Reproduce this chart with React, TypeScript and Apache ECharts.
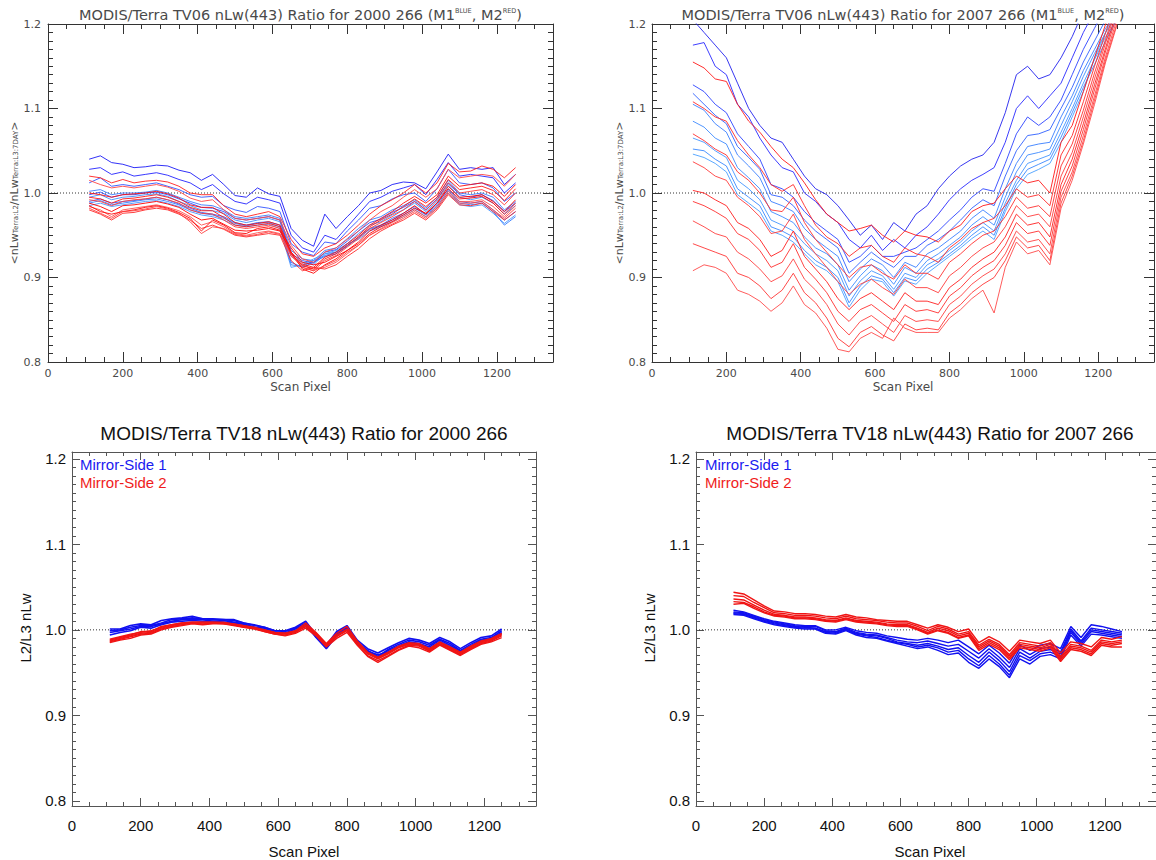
import React, { useEffect, useRef } from "react";
import * as echarts from "echarts";

// ---------------- DATA ----------------
const SCAN_PIXEL = [110,140,170,200,230,260,290,320,350,380,410,440,470,500,530,560,590,620,650,680,710,740,770,800,830,860,890,920,950,980,1010,1040,1070,1100,1130,1160,1190,1220,1250];
const X_MAJOR = [0,200,400,600,800,1000,1200];
const Y_MAJOR = [0.8,0.9,1.0,1.1,1.2];

// Top-left: TV06, 2000 day 266
const TL_BLUE = [
  [1.040,1.044,1.036,1.034,1.030,1.031,1.033,1.032,1.027,1.024,1.015,1.022,1.010,0.997,0.995,1.006,0.999,0.996,0.958,0.944,0.937,0.975,0.958,0.972,0.985,1.000,1.003,1.010,1.013,1.012,1.005,1.025,1.046,1.028,1.030,1.028,1.030,1.010,1.022],
  [1.028,1.030,1.022,1.025,1.020,1.022,1.024,1.021,1.016,1.012,1.004,1.010,0.999,0.990,0.987,0.995,0.992,0.988,0.950,0.935,0.930,0.950,0.945,0.960,0.975,0.990,0.995,1.002,1.006,1.010,0.998,1.016,1.036,1.020,1.022,1.020,1.018,1.000,1.012],
  [1.012,1.018,1.008,1.010,1.008,1.010,1.012,1.008,1.004,0.998,0.995,0.996,0.985,0.980,0.977,0.984,0.982,0.978,0.940,0.930,0.926,0.942,0.940,0.955,0.968,0.982,0.985,0.993,0.998,1.000,0.990,1.005,1.028,1.012,1.010,1.012,1.006,0.990,1.000],
  [1.002,1.004,0.998,1.000,1.000,1.001,1.003,1.000,0.995,0.990,0.986,0.985,0.980,0.972,0.970,0.972,0.974,0.970,0.932,0.922,0.920,0.932,0.935,0.946,0.958,0.968,0.972,0.980,0.985,0.992,0.982,0.995,1.015,1.000,0.998,1.000,0.995,0.980,0.990],
  [0.995,0.998,0.992,0.995,0.996,0.998,0.999,0.996,0.990,0.985,0.980,0.979,0.976,0.968,0.965,0.968,0.970,0.966,0.925,0.918,0.915,0.928,0.930,0.940,0.952,0.962,0.966,0.974,0.980,0.988,0.978,0.990,1.010,0.995,0.992,0.995,0.988,0.975,0.985],
  [0.990,0.993,0.988,0.990,0.991,0.993,0.995,0.992,0.987,0.982,0.977,0.975,0.972,0.965,0.962,0.965,0.966,0.962,0.918,0.912,0.918,0.925,0.928,0.937,0.948,0.958,0.962,0.970,0.976,0.984,0.975,0.986,1.005,0.990,0.988,0.990,0.980,0.968,0.978],
  [0.985,0.988,0.984,0.986,0.988,0.990,0.991,0.988,0.984,0.978,0.974,0.972,0.968,0.962,0.960,0.962,0.963,0.958,0.912,0.915,0.922,0.928,0.932,0.940,0.945,0.955,0.960,0.966,0.972,0.980,0.972,0.982,1.000,0.986,0.984,0.986,0.976,0.964,0.974],
  [0.988,0.991,0.986,0.988,0.990,0.992,0.993,0.990,0.986,0.980,0.976,0.974,0.970,0.964,0.961,0.964,0.965,0.960,0.915,0.913,0.920,0.926,0.930,0.938,0.947,0.957,0.961,0.968,0.974,0.982,0.974,0.984,1.003,0.988,0.986,0.988,0.978,0.962,0.972],
  [0.998,1.001,0.995,0.998,0.998,1.000,1.001,0.998,0.993,0.988,0.983,0.982,0.978,0.970,0.968,0.970,0.972,0.968,0.928,0.920,0.917,0.930,0.933,0.943,0.955,0.965,0.969,0.977,0.983,0.990,0.980,0.993,1.012,0.998,0.995,0.998,0.991,0.978,0.988],
];
const TL_RED = [
  [1.020,1.018,1.012,1.016,1.012,1.014,1.015,1.013,1.008,1.000,0.998,0.998,0.985,0.975,0.972,0.975,0.978,0.972,0.945,0.928,0.925,0.935,0.940,0.950,0.962,0.975,0.985,0.992,1.000,1.010,1.000,1.012,1.035,1.025,1.026,1.032,1.028,1.018,1.030],
  [1.015,1.010,1.006,1.008,1.006,1.008,1.010,1.007,1.002,0.994,0.990,0.992,0.980,0.970,0.968,0.970,0.972,0.968,0.938,0.922,0.918,0.930,0.935,0.945,0.955,0.968,0.978,0.985,0.995,1.004,0.995,1.005,1.028,1.018,1.020,1.022,1.020,1.008,1.022],
  [1.000,0.998,0.995,0.998,0.999,1.000,1.002,0.999,0.994,0.986,0.983,0.983,0.975,0.965,0.962,0.964,0.966,0.962,0.930,0.916,0.912,0.924,0.930,0.940,0.950,0.962,0.970,0.978,0.988,0.996,0.988,0.998,1.020,1.008,1.010,1.012,1.008,0.996,1.010],
  [0.992,0.990,0.985,0.990,0.992,0.993,0.995,0.992,0.988,0.980,0.976,0.975,0.968,0.960,0.958,0.960,0.962,0.958,0.926,0.912,0.908,0.920,0.926,0.936,0.946,0.958,0.965,0.972,0.980,0.990,0.980,0.992,1.012,1.000,1.002,1.004,0.998,0.986,1.000],
  [0.988,0.984,0.978,0.985,0.986,0.988,0.990,0.987,0.983,0.975,0.968,0.970,0.963,0.956,0.955,0.956,0.958,0.955,0.930,0.910,0.905,0.915,0.922,0.932,0.942,0.955,0.962,0.968,0.976,0.985,0.975,0.988,1.008,0.995,0.996,0.998,0.990,0.978,0.992],
  [0.984,0.980,0.972,0.980,0.982,0.984,0.986,0.983,0.979,0.972,0.962,0.966,0.960,0.952,0.950,0.953,0.955,0.952,0.925,0.915,0.910,0.912,0.918,0.928,0.938,0.950,0.958,0.965,0.972,0.980,0.972,0.984,1.002,0.990,0.990,0.992,0.984,0.972,0.985],
  [0.980,0.975,0.968,0.976,0.977,0.980,0.982,0.980,0.975,0.968,0.958,0.962,0.957,0.950,0.948,0.950,0.952,0.950,0.920,0.908,0.912,0.910,0.915,0.925,0.934,0.946,0.955,0.962,0.968,0.976,0.968,0.980,0.998,0.986,0.985,0.988,0.978,0.968,0.978],
  [0.985,0.978,0.975,0.978,0.980,0.983,0.985,0.982,0.977,0.970,0.955,0.968,0.962,0.953,0.952,0.958,0.960,0.956,0.935,0.918,0.915,0.918,0.925,0.932,0.940,0.952,0.960,0.966,0.974,0.982,0.976,0.988,1.005,0.993,0.994,0.996,0.988,0.975,0.988],
  [0.982,0.976,0.970,0.978,0.979,0.981,0.984,0.981,0.976,0.966,0.952,0.960,0.958,0.951,0.949,0.951,0.954,0.951,0.928,0.912,0.908,0.914,0.920,0.930,0.938,0.950,0.957,0.963,0.970,0.978,0.970,0.982,1.000,0.988,0.988,0.990,0.980,0.970,0.982],
  [0.995,0.993,0.988,0.993,0.994,0.996,0.998,0.995,0.990,0.983,0.979,0.979,0.971,0.962,0.960,0.962,0.964,0.960,0.928,0.914,0.910,0.922,0.928,0.938,0.948,0.960,0.968,0.975,0.984,0.993,0.984,0.995,1.016,1.004,1.006,1.008,1.003,0.991,1.005],
];

// Top-right: TV06, 2007 day 266
const TR_BLUE = [
  [1.205,1.190,1.175,1.160,1.130,1.100,1.080,1.065,1.060,1.040,1.020,1.005,0.998,0.985,0.968,0.950,0.962,0.945,0.965,0.955,0.975,0.985,1.005,1.020,1.032,1.040,1.045,1.060,1.095,1.140,1.150,1.135,1.140,1.160,1.185,1.215,1.240,1.260,1.280],
  [1.175,1.178,1.150,1.140,1.105,1.090,1.065,1.045,1.030,1.025,1.000,0.990,0.975,0.965,0.945,0.935,0.950,0.932,0.945,0.935,0.950,0.960,0.975,0.992,1.005,1.015,1.022,1.030,1.060,1.100,1.115,1.100,1.115,1.130,1.160,1.190,1.215,1.240,1.260],
  [1.128,1.120,1.105,1.095,1.070,1.055,1.040,1.010,1.005,0.995,0.978,0.965,0.955,0.945,0.918,0.925,0.938,0.925,0.925,0.930,0.935,0.945,0.955,0.968,0.980,0.995,1.005,1.002,1.035,1.070,1.090,1.080,1.090,1.110,1.140,1.170,1.195,1.220,1.240],
  [1.118,1.105,1.092,1.082,1.055,1.042,1.028,0.998,0.995,0.985,0.968,0.955,0.945,0.935,0.905,0.918,0.930,0.920,0.912,0.925,0.925,0.938,0.945,0.955,0.968,0.982,0.992,0.985,1.020,1.050,1.068,1.070,1.075,1.100,1.125,1.155,1.180,1.205,1.225],
  [1.105,1.098,1.082,1.072,1.045,1.032,1.018,0.990,0.985,0.978,0.958,0.945,0.935,0.925,0.895,0.910,0.922,0.915,0.900,0.918,0.912,0.928,0.935,0.945,0.955,0.970,0.980,0.970,1.005,1.035,1.055,1.058,1.060,1.090,1.115,1.145,1.170,1.195,1.215],
  [1.085,1.078,1.065,1.058,1.030,1.018,1.005,0.978,0.972,0.965,0.948,0.935,0.928,0.915,0.885,0.902,0.915,0.908,0.892,0.912,0.905,0.920,0.928,0.938,0.948,0.962,0.972,0.962,0.995,1.025,1.045,1.048,1.052,1.080,1.108,1.138,1.165,1.190,1.210],
  [1.065,1.060,1.050,1.042,1.015,1.005,0.992,0.968,0.962,0.955,0.940,0.928,0.920,0.908,0.878,0.896,0.908,0.902,0.886,0.905,0.900,0.915,0.922,0.932,0.942,0.955,0.965,0.955,0.988,1.015,1.035,1.040,1.045,1.072,1.100,1.130,1.158,1.185,1.205],
  [1.052,1.050,1.040,1.032,1.005,0.995,0.985,0.960,0.955,0.948,0.932,0.920,0.912,0.900,0.870,0.890,0.902,0.898,0.882,0.900,0.896,0.910,0.918,0.928,0.938,0.950,0.960,0.950,0.982,1.010,1.028,1.034,1.040,1.066,1.095,1.125,1.152,1.180,1.205],
  [1.046,1.042,1.035,1.025,0.998,0.988,0.978,0.955,0.950,0.942,0.928,0.915,0.908,0.895,0.865,0.885,0.898,0.895,0.878,0.896,0.892,0.905,0.915,0.925,0.935,0.946,0.955,0.945,0.978,1.005,1.022,1.028,1.035,1.060,1.090,1.120,1.160,1.190,1.220],
];
const TR_RED = [
  [1.155,1.148,1.135,1.132,1.105,1.085,1.072,1.055,1.040,1.030,1.012,0.992,0.975,0.965,0.955,0.958,0.962,0.950,0.942,0.955,0.950,0.948,0.942,0.955,0.962,0.978,0.985,0.988,1.005,1.020,1.012,1.015,1.000,1.060,1.080,1.120,1.160,1.200,1.240],
  [1.108,1.100,1.090,1.085,1.062,1.045,1.030,1.010,1.002,1.010,0.985,0.962,0.948,0.940,0.925,0.935,0.938,0.925,0.918,0.935,0.928,0.925,0.918,0.935,0.945,0.958,0.965,0.970,0.985,1.005,0.995,0.998,0.985,1.045,1.068,1.108,1.150,1.190,1.230],
  [1.070,1.062,1.052,1.045,1.025,1.015,1.000,0.980,0.978,0.995,0.965,0.945,0.930,0.915,0.900,0.912,0.915,0.905,0.898,0.915,0.905,0.905,0.898,0.918,0.928,0.940,0.950,0.955,0.972,0.995,0.982,0.985,0.972,1.032,1.058,1.098,1.142,1.182,1.225],
  [1.037,1.030,1.020,1.015,0.995,0.985,0.972,0.952,0.955,0.975,0.945,0.928,0.912,0.895,0.880,0.892,0.898,0.888,0.880,0.898,0.888,0.888,0.882,0.902,0.912,0.925,0.935,0.942,0.960,0.985,0.972,0.975,0.960,1.020,1.048,1.090,1.135,1.178,1.220],
  [1.003,1.000,0.992,0.985,0.965,0.958,0.945,0.925,0.932,0.955,0.925,0.910,0.895,0.875,0.862,0.875,0.882,0.872,0.862,0.882,0.872,0.872,0.868,0.888,0.898,0.912,0.922,0.930,0.948,0.975,0.962,0.965,0.948,1.010,1.040,1.082,1.128,1.172,1.215],
  [0.990,0.985,0.978,0.970,0.952,0.945,0.932,0.912,0.918,0.940,0.912,0.898,0.882,0.860,0.848,0.862,0.868,0.858,0.848,0.868,0.860,0.862,0.858,0.878,0.888,0.902,0.912,0.920,0.938,0.965,0.952,0.955,0.938,1.002,1.032,1.075,1.122,1.168,1.210],
  [0.967,0.960,0.952,0.948,0.930,0.922,0.910,0.895,0.902,0.922,0.898,0.885,0.868,0.845,0.832,0.848,0.855,0.845,0.835,0.855,0.848,0.850,0.848,0.868,0.878,0.892,0.902,0.910,0.928,0.955,0.942,0.945,0.928,0.995,1.025,1.068,1.115,1.162,1.205],
  [0.940,0.935,0.930,0.925,0.905,0.900,0.890,0.875,0.885,0.905,0.882,0.870,0.852,0.828,0.818,0.835,0.842,0.832,0.825,0.845,0.838,0.840,0.838,0.858,0.868,0.882,0.892,0.900,0.920,0.948,0.935,0.938,0.920,0.988,1.020,1.062,1.110,1.158,1.200],
  [0.908,0.915,0.912,0.905,0.885,0.880,0.872,0.860,0.870,0.890,0.868,0.858,0.840,0.815,0.812,0.828,0.835,0.828,0.852,0.840,0.835,0.835,0.835,0.852,0.862,0.875,0.885,0.858,0.912,0.942,0.928,0.932,0.915,0.982,1.015,1.058,1.105,1.155,1.198],
];

// Bottom-left: TV18, 2000 day 266
const BL_BLUE = [
  [1.001,1.001,1.005,1.007,1.006,1.011,1.013,1.014,1.016,1.013,1.013,1.012,1.012,1.008,1.006,1.003,0.999,0.999,1.003,1.010,0.994,0.982,0.998,1.005,0.988,0.978,0.973,0.979,0.985,0.990,0.988,0.984,0.991,0.986,0.978,0.985,0.991,0.993,1.001],
  [0.997,0.999,1.001,1.004,1.004,1.007,1.010,1.012,1.012,1.012,1.010,1.011,1.009,1.007,1.003,1.002,0.997,0.996,1.001,1.006,0.991,0.978,0.993,1.001,0.984,0.974,0.968,0.976,0.981,0.986,0.984,0.980,0.988,0.982,0.975,0.981,0.988,0.989,0.997],
  [0.994,0.997,0.999,1.003,1.002,1.006,1.009,1.010,1.011,1.010,1.010,1.009,1.008,1.006,1.003,1.000,0.997,0.996,0.999,1.004,0.993,0.980,0.996,1.003,0.986,0.975,0.971,0.974,0.980,0.984,0.983,0.978,0.986,0.980,0.974,0.981,0.987,0.990,0.996],
  [0.999,1.000,1.003,1.005,1.005,1.008,1.012,1.013,1.014,1.013,1.012,1.012,1.011,1.008,1.005,1.003,0.999,0.998,1.002,1.008,0.992,0.979,0.995,1.002,0.985,0.976,0.969,0.977,0.983,0.988,0.986,0.982,0.989,0.984,0.976,0.983,0.989,0.991,0.999],
];
const BL_RED = [
  [0.988,0.991,0.994,0.998,0.998,1.004,1.006,1.008,1.009,1.009,1.009,1.009,1.007,1.005,1.003,1.000,0.997,0.996,0.999,1.008,0.997,0.984,0.996,1.004,0.987,0.974,0.968,0.974,0.981,0.985,0.984,0.978,0.986,0.980,0.974,0.981,0.987,0.990,0.996],
  [0.986,0.989,0.992,0.995,0.996,1.001,1.004,1.006,1.008,1.007,1.008,1.007,1.006,1.003,1.001,0.998,0.995,0.994,0.997,1.004,0.994,0.981,0.992,0.999,0.983,0.970,0.964,0.970,0.977,0.982,0.981,0.975,0.983,0.977,0.971,0.978,0.984,0.987,0.993],
  [0.985,0.988,0.990,0.994,0.995,1.000,1.003,1.005,1.007,1.006,1.007,1.007,1.005,1.003,1.002,0.998,0.995,0.993,0.996,1.002,0.993,0.980,0.990,0.997,0.982,0.969,0.962,0.969,0.976,0.981,0.979,0.974,0.982,0.976,0.970,0.977,0.983,0.986,0.991],
  [0.989,0.992,0.995,0.997,0.999,1.003,1.006,1.008,1.009,1.009,1.009,1.008,1.007,1.005,1.002,1.000,0.997,0.996,0.998,1.006,0.996,0.983,0.994,1.001,0.986,0.973,0.967,0.973,0.980,0.984,0.983,0.977,0.985,0.979,0.973,0.980,0.986,0.989,0.995],
  [0.987,0.990,0.993,0.996,0.997,1.002,1.005,1.007,1.008,1.008,1.008,1.008,1.006,1.004,1.002,0.999,0.996,0.995,0.998,1.005,0.995,0.982,0.993,1.000,0.985,0.972,0.966,0.972,0.979,0.983,0.982,0.976,0.984,0.978,0.972,0.979,0.985,0.988,0.994],
];

// Bottom-right: TV18, 2007 day 266
const BR_BLUE = [
  [1.023,1.021,1.017,1.013,1.010,1.008,1.006,1.005,1.005,1.000,1.000,1.003,0.999,0.997,0.996,0.993,0.991,0.989,0.988,0.990,0.988,0.985,0.988,0.980,0.972,0.982,0.973,0.961,0.982,0.976,0.982,0.984,0.978,1.004,0.991,1.006,1.004,1.001,0.998],
  [1.021,1.020,1.016,1.012,1.009,1.007,1.005,1.004,1.004,0.999,0.998,1.002,0.997,0.995,0.994,0.991,0.988,0.986,0.985,0.987,0.984,0.981,0.983,0.975,0.967,0.978,0.968,0.956,0.978,0.971,0.978,0.980,0.974,1.001,0.987,1.002,1.000,0.998,0.996],
  [1.020,1.019,1.015,1.011,1.008,1.006,1.004,1.003,1.002,0.998,0.997,1.001,0.996,0.994,0.993,0.990,0.986,0.984,0.982,0.984,0.981,0.977,0.979,0.970,0.962,0.974,0.964,0.951,0.974,0.967,0.975,0.977,0.972,0.999,0.985,1.000,0.998,0.996,0.994],
  [1.019,1.018,1.014,1.010,1.007,1.005,1.003,1.002,1.002,0.997,0.996,1.000,0.995,0.993,0.991,0.988,0.985,0.983,0.980,0.982,0.979,0.974,0.976,0.966,0.958,0.970,0.960,0.947,0.970,0.964,0.972,0.974,0.969,0.997,0.983,0.998,0.996,0.994,0.992],
  [1.018,1.017,1.013,1.009,1.006,1.004,1.002,1.001,1.001,0.996,0.995,0.999,0.994,0.991,0.990,0.987,0.984,0.981,0.978,0.980,0.976,0.971,0.973,0.962,0.955,0.966,0.957,0.944,0.966,0.960,0.969,0.971,0.966,0.994,0.981,0.995,0.994,0.992,0.990],
];
const BR_RED = [
  [1.044,1.042,1.035,1.028,1.022,1.021,1.019,1.019,1.018,1.016,1.015,1.018,1.015,1.014,1.012,1.011,1.010,1.010,1.006,1.002,1.006,1.003,0.998,1.001,0.985,0.992,0.986,0.975,0.988,0.986,0.984,0.988,0.973,0.986,0.984,0.980,0.991,0.989,0.992],
  [1.040,1.039,1.032,1.026,1.020,1.019,1.017,1.017,1.016,1.014,1.013,1.016,1.013,1.012,1.011,1.009,1.008,1.008,1.004,0.999,1.004,1.001,0.995,0.998,0.982,0.989,0.983,0.971,0.985,0.983,0.981,0.985,0.969,0.983,0.981,0.976,0.988,0.986,0.988],
  [1.036,1.035,1.029,1.023,1.018,1.017,1.015,1.015,1.014,1.012,1.011,1.014,1.011,1.010,1.009,1.007,1.006,1.006,1.002,0.997,1.002,0.999,0.993,0.996,0.980,0.987,0.981,0.969,0.983,0.981,0.979,0.983,0.967,0.981,0.979,0.974,0.986,0.984,0.986],
  [1.033,1.032,1.027,1.021,1.017,1.016,1.014,1.014,1.013,1.011,1.010,1.013,1.010,1.009,1.008,1.006,1.005,1.005,1.001,0.996,1.000,0.997,0.991,0.994,0.978,0.985,0.979,0.967,0.981,0.979,0.977,0.981,0.965,0.979,0.977,0.972,0.984,0.982,0.984],
  [1.030,1.031,1.025,1.020,1.016,1.015,1.013,1.013,1.012,1.010,1.009,1.012,1.009,1.008,1.007,1.005,1.004,1.004,1.000,0.995,0.999,0.996,0.990,0.993,0.976,0.983,0.977,0.965,0.979,0.977,0.975,0.979,0.963,0.977,0.975,0.970,0.982,0.980,0.980],
];

const TL_BLUE_COLORS = ["#1c1cf6", "#2424ff", "#3355ff", "#3c7cff", "#3f8fff", "#2f66ff", "#4a98ff", "#3a80ff", "#2a50ff"];
const TL_RED_COLORS = ["#ff2020", "#ff4646", "#ff1010", "#ff3a3a", "#ff0000", "#ff5050", "#ff2a2a", "#ff0808", "#ff4040", "#ff1818"];
const TR_BLUE_COLORS = ["#2222ee", "#2a2aff", "#2e44ff", "#3060ff", "#3a80ff", "#3f8cff", "#4596ff", "#3a88ff", "#4aa0ff"];
const TR_RED_COLORS = ["#ff1a1a", "#ff2a2a", "#ff3030", "#ff3c3c", "#ff2020", "#ff3030", "#ff4040", "#ff3636", "#ff4a4a"];

// ---------------- LAYOUT ----------------
type Panel = {
  left: number; top: number; width: number; height: number;
  yMin: number; yMax: number;
  font: string; text: string; frame: string;
  tickFont: number; major: number; minor: number;
  xMargin: number; yMargin: number;
};

const IDL_FONT = "DejaVu Sans";
const HV_FONT = "Liberation Sans";

const PANELS: Panel[] = [
  { left: 48, top: 24, width: 505, height: 338, yMin: 0.8, yMax: 1.2, font: IDL_FONT, text: "#4a4a4a", frame: "#333", tickFont: 11, major: 10, minor: 5, xMargin: 6, yMargin: 7 },
  { left: 652, top: 24, width: 502, height: 338, yMin: 0.8, yMax: 1.2, font: IDL_FONT, text: "#4a4a4a", frame: "#333", tickFont: 11, major: 10, minor: 5, xMargin: 6, yMargin: 6 },
  { left: 72, top: 452, width: 464, height: 354, yMin: 0.794, yMax: 1.208, font: HV_FONT, text: "#111", frame: "#555", tickFont: 15, major: 8, minor: 4, xMargin: 12, yMargin: 6 },
  { left: 696, top: 452, width: 468, height: 354, yMin: 0.794, yMax: 1.208, font: HV_FONT, text: "#111", frame: "#555", tickFont: 15, major: 8, minor: 4, xMargin: 12, yMargin: 6 },
];

function minorX(): number[] {
  const out: number[] = [];
  for (let v = 50; v < 1350; v += 50) if (v % 200 !== 0) out.push(v);
  return out;
}
function minorY(): number[] {
  const out: number[] = [];
  for (let k = 79; k <= 121; k++) if (k % 10 !== 0) out.push(k / 100);
  return out;
}

function buildAxes(p: Panel, gi: number) {
  const line = { color: p.frame, width: 1 };
  const base = { type: "value", gridIndex: gi, splitLine: { show: false }, silent: true };
  const label = { color: p.text, fontSize: p.tickFont, fontFamily: p.font };
  const xAxes = [
    { ...base, position: "bottom", min: 0, max: 1350,
      axisLine: { show: true, onZero: false, lineStyle: line },
      axisTick: { show: true, inside: true, length: p.major, customValues: X_MAJOR, lineStyle: line },
      axisLabel: { show: true, customValues: X_MAJOR, margin: p.xMargin, ...label, formatter: (v: number) => String(v) } },
    { ...base, position: "bottom", min: 0, max: 1350,
      axisLine: { show: false, onZero: false },
      axisTick: { show: true, inside: true, length: p.minor, customValues: minorX(), lineStyle: line },
      axisLabel: { show: false } },
    { ...base, position: "top", min: 0, max: 1350,
      axisLine: { show: true, onZero: false, lineStyle: line },
      axisTick: { show: true, inside: true, length: p.major, customValues: X_MAJOR, lineStyle: line },
      axisLabel: { show: false } },
    { ...base, position: "top", min: 0, max: 1350,
      axisLine: { show: false, onZero: false },
      axisTick: { show: true, inside: true, length: p.minor, customValues: minorX(), lineStyle: line },
      axisLabel: { show: false } },
  ];
  const yAxes = [
    { ...base, position: "left", min: p.yMin, max: p.yMax,
      axisLine: { show: true, onZero: false, lineStyle: line },
      axisTick: { show: true, inside: true, length: p.major, customValues: Y_MAJOR, lineStyle: line },
      axisLabel: { show: true, customValues: Y_MAJOR, margin: p.yMargin, ...label, formatter: (v: number) => v.toFixed(1) } },
    { ...base, position: "left", min: p.yMin, max: p.yMax,
      axisLine: { show: false, onZero: false },
      axisTick: { show: true, inside: true, length: p.minor, customValues: minorY(), lineStyle: line },
      axisLabel: { show: false } },
    { ...base, position: "right", min: p.yMin, max: p.yMax,
      axisLine: { show: true, onZero: false, lineStyle: line },
      axisTick: { show: true, inside: true, length: p.major, customValues: Y_MAJOR, lineStyle: line },
      axisLabel: { show: false } },
    { ...base, position: "right", min: p.yMin, max: p.yMax,
      axisLine: { show: false, onZero: false },
      axisTick: { show: true, inside: true, length: p.minor, customValues: minorY(), lineStyle: line },
      axisLabel: { show: false } },
  ];
  return { xAxes, yAxes };
}

function lineSeries(gi: number, arrs: number[][], colors: string[], width: number, opacity: number) {
  return arrs.map((arr, k) => ({
    type: "line",
    xAxisIndex: gi * 4,
    yAxisIndex: gi * 4,
    data: SCAN_PIXEL.map((x, i) => [x, arr[i]]),
    showSymbol: false,
    symbol: "none",
    silent: true,
    clip: true,
    z: 3,
    lineStyle: { color: colors[k % colors.length], width, opacity },
  }));
}

function refLine(gi: number) {
  return {
    type: "line",
    xAxisIndex: gi * 4,
    yAxisIndex: gi * 4,
    data: [[0, 1], [1350, 1]],
    showSymbol: false,
    symbol: "none",
    silent: true,
    z: 2,
    lineStyle: { color: "#333", width: 1, type: [1, 2] },
  };
}

function txt(x: number, y: number, text: string, font: string, size: number, fill: string, extra: any = {}) {
  return {
    type: "text",
    x, y,
    silent: true,
    ...extra,
    style: {
      text, fill, fontFamily: font, fontSize: size,
      align: "center", verticalAlign: "middle",
      textAlign: "center", textVerticalAlign: "middle",
      ...(extra.style || {}),
    },
  };
}

function idlTitle(x: number, year: string) {
  return {
    type: "text", x, y: 15, silent: true,
    style: {
      text: `{t|MODIS/Terra TV06 nLw(443) Ratio for ${year} 266 (M1}{s|BLUE}{t|, M2}{s|RED}{t|)}`,
      align: "center", verticalAlign: "middle", textAlign: "center", textVerticalAlign: "middle",
      rich: {
        t: { fontFamily: IDL_FONT, fontSize: 14.5, fill: "#4a4a4a", color: "#4a4a4a", verticalAlign: "bottom" },
        s: { fontFamily: IDL_FONT, fontSize: 6.5, fill: "#4a4a4a", color: "#4a4a4a", verticalAlign: "top" },
      },
    },
  };
}

function idlYName(x: number) {
  return {
    type: "text", x, y: 193, rotation: Math.PI / 2, silent: true,
    style: {
      text: "{a|<nLw}{s|Terra:L2}{a|/nLw}{s|Terra:L3:7DAY}{a|>}",
      align: "center", verticalAlign: "middle", textAlign: "center", textVerticalAlign: "middle",
      rich: {
        a: { fontFamily: IDL_FONT, fontSize: 11, fill: "#4a4a4a", color: "#4a4a4a", verticalAlign: "top" },
        s: { fontFamily: IDL_FONT, fontSize: 7, fill: "#4a4a4a", color: "#4a4a4a", verticalAlign: "bottom" },
      },
    },
  };
}

function buildOption() {
  const grid: any[] = [];
  const xAxis: any[] = [];
  const yAxis: any[] = [];
  PANELS.forEach((p, gi) => {
    grid.push({ left: p.left, top: p.top, width: p.width, height: p.height, containLabel: false, show: false });
    const a = buildAxes(p, gi);
    xAxis.push(...a.xAxes);
    yAxis.push(...a.yAxes);
  });

  const series: any[] = [
    refLine(0), refLine(1), refLine(2), refLine(3),
    ...lineSeries(0, TL_BLUE, TL_BLUE_COLORS, 1, 0.9),
    ...lineSeries(0, TL_RED, TL_RED_COLORS, 1, 0.9),
    ...lineSeries(1, TR_BLUE, TR_BLUE_COLORS, 1, 0.9),
    ...lineSeries(1, TR_RED, TR_RED_COLORS, 1, 0.9),
    ...lineSeries(2, BL_BLUE, ["#1010f0"], 1.6, 1),
    ...lineSeries(2, BL_RED, ["#f01414"], 1.4, 1),
    ...lineSeries(3, BR_BLUE, ["#1010f0"], 1.4, 1),
    ...lineSeries(3, BR_RED, ["#f01414"], 1.4, 1),
  ];

  const tl = PANELS[0], tr = PANELS[1], bl = PANELS[2], br = PANELS[3];
  const graphic: any[] = [
    idlTitle(tl.left + tl.width / 2, "2000"),
    idlTitle(tr.left + tr.width / 2, "2007"),
    txt(tl.left + tl.width / 2, 387, "Scan Pixel", IDL_FONT, 12, "#4a4a4a"),
    txt(tr.left + tr.width / 2, 387, "Scan Pixel", IDL_FONT, 12, "#4a4a4a"),
    idlYName(14),
    idlYName(619),
    txt(bl.left + bl.width / 2, 433, "MODIS/Terra TV18 nLw(443) Ratio for 2000 266", HV_FONT, 19, "#111"),
    txt(br.left + br.width / 2, 433, "MODIS/Terra TV18 nLw(443) Ratio for 2007 266", HV_FONT, 19, "#111"),
    txt(bl.left + bl.width / 2, 851, "Scan Pixel", HV_FONT, 15, "#111"),
    txt(br.left + br.width / 2, 851, "Scan Pixel", HV_FONT, 15, "#111"),
    txt(25, 628, "L2/L3 nLw", HV_FONT, 15, "#111", { rotation: Math.PI / 2 }),
    txt(649, 628, "L2/L3 nLw", HV_FONT, 15, "#111", { rotation: Math.PI / 2 }),
    txt(80, 464, "Mirror-Side 1", HV_FONT, 15, "#1a1af0", { style: { align: "left", textAlign: "left" } }),
    txt(80, 482, "Mirror-Side 2", HV_FONT, 15, "#f01c1c", { style: { align: "left", textAlign: "left" } }),
    txt(705, 464, "Mirror-Side 1", HV_FONT, 15, "#1a1af0", { style: { align: "left", textAlign: "left" } }),
    txt(705, 482, "Mirror-Side 2", HV_FONT, 15, "#f01c1c", { style: { align: "left", textAlign: "left" } }),
  ];

  return {
    animation: false,
    backgroundColor: "#ffffff",
    grid, xAxis, yAxis, series, graphic,
  };
}

export default function App() {
  const ref = useRef<HTMLDivElement>(null);
  useEffect(() => {
    document.body.style.margin = "0";
    if (!ref.current) return;
    const chart = echarts.init(ref.current, null, { renderer: "svg" });
    chart.setOption(buildOption() as any);
    return () => chart.dispose();
  }, []);
  return <div ref={ref} style={{ width: 1156, height: 860, background: "#fff" }} />;
}
